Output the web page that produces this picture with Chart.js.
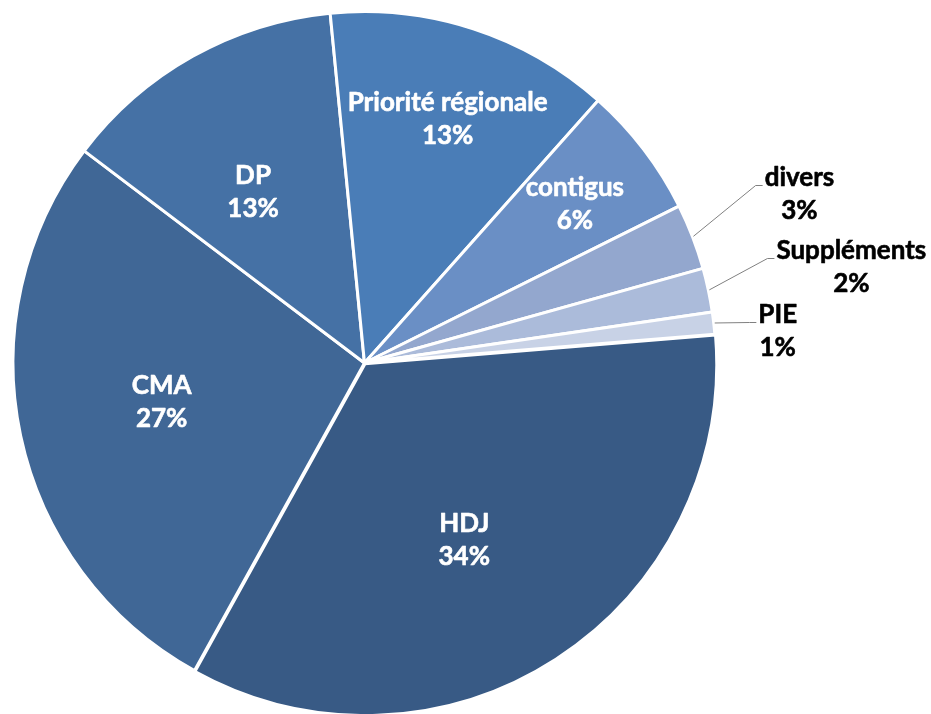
<!DOCTYPE html>
<html>
<head>
<meta charset="utf-8">
<script src="https://cdn.jsdelivr.net/npm/chart.js@4/dist/chart.umd.min.js"></script>
<style>
    html, body { margin: 0; padding: 0; background: #fff; }
    #wrap { width: 931px; height: 714px; position: relative; }
</style>
</head>
<body>
<div id="wrap"><canvas id="pieChart"></canvas></div>
<script>
// parts of the budget, going clockwise from HDJ
const categories = ['HDJ', 'CMA', 'DP', 'Priorité régionale', 'contigus', 'divers', 'Suppléments', 'PIE'];
const shares = [34, 27, 13, 13, 6, 3, 2, 1];
const sliceColors = ['#385a85', '#406796', '#4571a5', '#4a7db7', '#6a8fc5', '#93a7ce', '#abbbda', '#c8d2e6'];

// where each label sits: inside slices at a fraction of the radius,
// outside ones relative to the point where the leader line starts
const labelSpots = [
    { inside: true, frac: 0.575, dx: -10, dy: 6 },
    { inside: true, frac: 0.587, dx: -1, dy: -5 },
    { inside: true, frac: 0.585, dx: -11, dy: 7 },
    { inside: true, frac: 0.737, dx: 3, dy: 1 },
    { inside: true, frac: 0.75, dx: 1, dy: 0 },
    { inside: false, dx: 106, dy: -43 },
    { inside: false, dx: 142, dy: -23.5 },
    { inside: false, dx: 63, dy: 7 }
];

const lineGap = 33;
const capHalf = 9.5;

function drawText(ctx, text, x, y) {
    // a thin outline in the same colour makes the bold a bit heavier
    ctx.strokeText(text, x, y);
    ctx.fillText(text, x, y);
}

const sliceLabels = {
    id: 'sliceLabels',
    afterDatasetsDraw(chart) {
        const ctx = chart.ctx;
        const arcs = chart.getDatasetMeta(0).data;
        ctx.save();
        ctx.font = 'bold 26px Lato, "Open Sans", sans-serif';
        ctx.textAlign = 'center';
        ctx.textBaseline = 'alphabetic';
        ctx.lineJoin = 'round';
        arcs.forEach(function(arc, i) {
            const p = arc.getProps(['x', 'y', 'startAngle', 'endAngle', 'outerRadius'], true);
            const mid = (p.startAngle + p.endAngle) / 2;
            const spot = labelSpots[i];
            const lines = [categories[i], shares[i] + '%'];
            let cx, cy, color;
            if (spot.inside) {
                const r = p.outerRadius * spot.frac;
                cx = p.x + Math.cos(mid) * r + spot.dx;
                cy = p.y + Math.sin(mid) * r + spot.dy;
                color = '#ffffff';
            } else {
                const ax = p.x + Math.cos(mid) * (p.outerRadius + 1);
                const ay = p.y + Math.sin(mid) * (p.outerRadius + 1);
                cx = ax + spot.dx;
                cy = ay + spot.dy;
                const left = cx - ctx.measureText(lines[0]).width / 2;
                const base = Math.round(cy - lineGap / 2 + capHalf) - 0.5;
                ctx.strokeStyle = '#808080';
                ctx.lineWidth = 1;
                ctx.beginPath();
                ctx.moveTo(ax, ay);
                ctx.lineTo(left - 9, base);
                ctx.lineTo(left - 2, base);
                ctx.stroke();
                color = '#000000';
            }
            ctx.fillStyle = color;
            ctx.strokeStyle = color;
            ctx.lineWidth = 0.6;
            drawText(ctx, lines[0], cx, cy - lineGap / 2 + capHalf);
            drawText(ctx, lines[1], cx, cy + lineGap / 2 + capHalf);
        });
        ctx.restore();
    }
};

const ctx = document.getElementById('pieChart').getContext('2d');
const pieChart = new Chart(ctx, {
    type: 'pie',
    data: {
        labels: categories,
        datasets: [{
            data: shares,
            backgroundColor: sliceColors,
            borderColor: '#ffffff',
            borderWidth: 3,
            offset: [4, 0, 0, 0, 0, 0, 0, 0]
        }]
    },
    options: {
        responsive: true,
        maintainAspectRatio: false,
        animation: false,
        rotation: 85.3,
        radius: 351.5,
        layout: {
            padding: { left: 0, right: 202, top: 12, bottom: 0 }
        },
        plugins: {
            legend: { display: false },
            tooltip: { enabled: false }
        }
    },
    plugins: [sliceLabels]
});
</script>
</body>
</html>
